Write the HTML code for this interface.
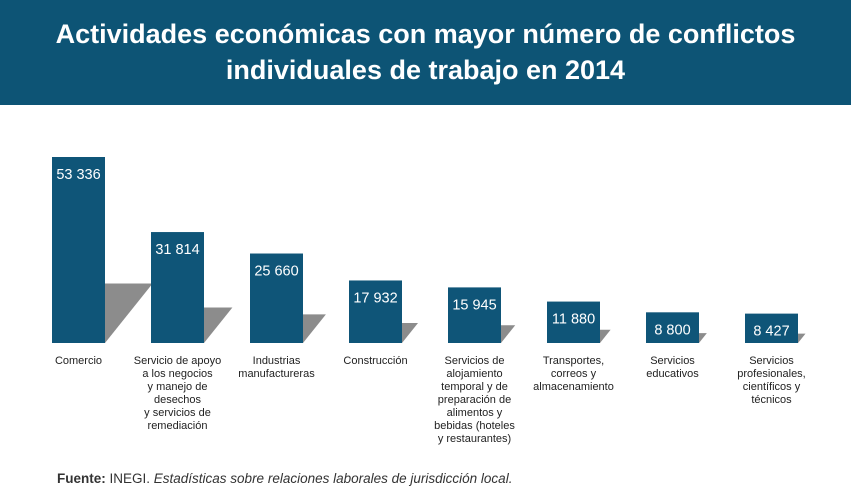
<!DOCTYPE html>
<html><head><meta charset="utf-8"><style>
body{margin:0;width:851px;height:495px;background:#fff;font-family:"Liberation Sans",sans-serif;overflow:hidden;position:relative}
#banner{position:absolute;left:0;top:0;width:851px;height:105px;background:#0d5475;color:#fff;font-weight:bold;font-size:27px;text-align:center;line-height:36px;padding-top:16px;box-sizing:border-box}
#src{position:absolute;left:57px;top:471px;font-size:13.5px;color:#333}
</style></head><body>
<div id="banner">Actividades económicas con mayor número de conflictos<br>individuales de trabajo en 2014</div>
<svg id="chart" width="851" height="495" style="position:absolute;left:0;top:0"></svg>
<div id="src"><b>Fuente:</b> INEGI. <i>Estadísticas sobre relaciones laborales de jurisdicción local.</i></div>
<script>
const categories=[["Comercio"],["Servicio de apoyo","a los negocios","y manejo de","desechos","y servicios de","remediación"],["Industrias","manufactureras"],["Construcción"],["Servicios de","alojamiento","temporal y de","preparación de","alimentos y","bebidas (hoteles","y restaurantes)"],["Transportes,","correos y","almacenamiento"],["Servicios","educativos"],["Servicios","profesionales,","científicos y","técnicos"]];
const values=[53336,31814,25660,17932,15945,11880,8800,8427];
const valueLabels=["53 336","31 814","25 660","17 932","15 945","11 880","8 800","8 427"];
const svg=document.getElementById('chart');
const NS="http://www.w3.org/2000/svg";
const base=343, scale=186/53336;
const xPos=i=>52+i*99;
const yH=v=>v*scale;
function mk(t,a){const e=document.createElementNS(NS,t);for(const k in a)e.setAttribute(k,a[k]);svg.appendChild(e);return e;}
values.forEach((v,i)=>{
  const x=xPos(i),h=yH(v),sh=h*0.32,sw=sh*0.8;
  const s=mk('polygon',{points:`${x+53},${base-sh} ${x+53+sw},${base-sh} ${x+53},${base}`,fill:'#8c8c8c'});
  
  
  const r=mk('rect',{x:x,y:base-h,width:53,height:h,fill:'#0f5578'});
  
  
  const t=mk('text',{x:x+26.5,y:base-h+22,'text-anchor':'middle','font-size':'14.5',fill:'#fff'});
  t.textContent=valueLabels[i];
  
  
  categories[i].forEach((ln,j)=>{
    const c=mk('text',{x:x+26.5,y:364+j*13,'text-anchor':'middle','font-size':'11',fill:'#222'});
    c.textContent=ln;
    
    
  });
});
</script>
</body></html>
